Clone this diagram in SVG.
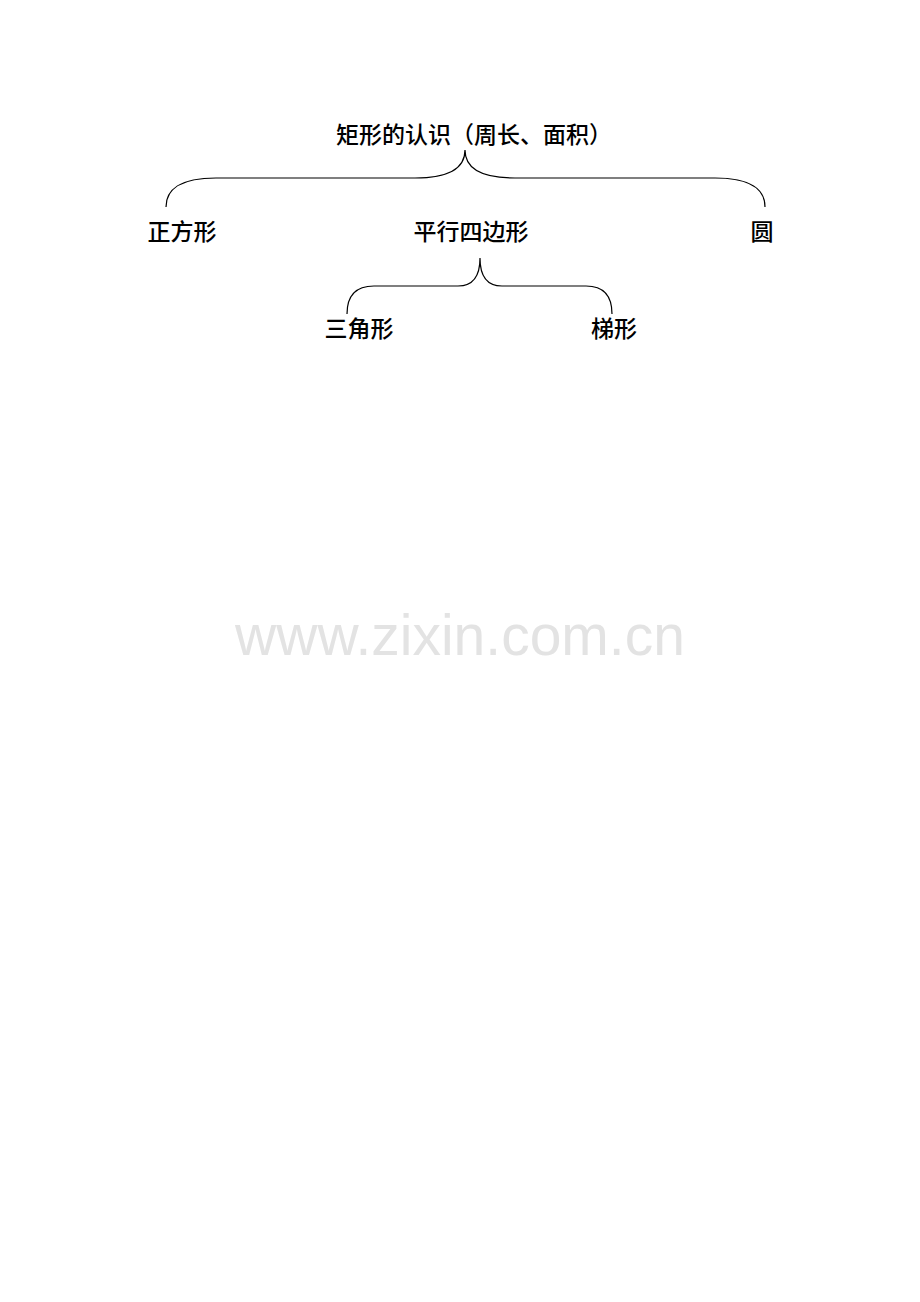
<svg xmlns="http://www.w3.org/2000/svg" width="920" height="1302" viewBox="0 0 920 1302">
<style>
.t{font-family:"Noto Sans CJK SC","Noto Sans",sans-serif;font-size:23px;font-weight:500;fill:#000}
.b{fill:none;stroke:#000;stroke-width:1.2}
.w{font-family:"Liberation Sans",Arial,sans-serif;font-size:57px;fill:#e3e3e3}
</style>
<rect width="920" height="1302" fill="#fff"/>
<g id="watermark"><text class="w" x="460" y="655" text-anchor="middle">www.zixin.com.cn</text></g>
<g id="connectors">
<path class="b" d="M166,207 C166,190 180,178 216,178 L415,178 C447,178 465,170 465,150 C465,170 483,178 515,178 L715,178 C751,178 765,190 765,207"/>
<path class="b" d="M347,314 C347,296 356,286 374,286 L458,286 C472,286 480,278 480,258 C480,278 488,286 502,286 L586,286 C604,286 612,296 612,314"/>
</g>
<g id="root"><text class="t" x="474" y="143" text-anchor="middle">矩形的认识（周长、面积）</text></g>
<g id="square"><text class="t" x="182" y="240" text-anchor="middle">正方形</text></g>
<g id="parallelogram"><text class="t" x="471" y="240" text-anchor="middle">平行四边形</text></g>
<g id="circle"><text class="t" x="762" y="240" text-anchor="middle">圆</text></g>
<g id="triangle"><text class="t" x="359" y="337" text-anchor="middle">三角形</text></g>
<g id="trapezoid"><text class="t" x="614" y="337" text-anchor="middle">梯形</text></g>
</svg>
